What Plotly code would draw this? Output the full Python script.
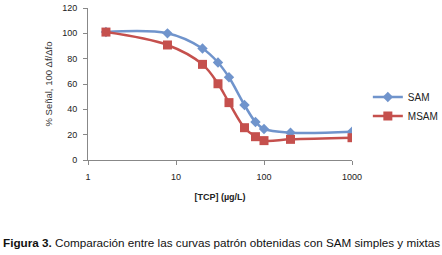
import plotly.graph_objects as go

conc = [1.6, 8, 20, 30, 40, 60, 80, 100, 200, 1000]
sam = [101, 100, 88, 77, 65.3, 43.4, 30, 24.5, 21.6, 22.3]
msam = [101, 90.8, 75.5, 60.2, 45.3, 25.5, 18.4, 15.3, 16.3, 17.6]
x_ticks = [1, 10, 100, 1000]
y_ticks = [0, 20, 40, 60, 80, 100, 120]

fig = go.Figure()
fig.add_trace(go.Scatter(
    x=conc, y=sam, name="SAM", mode="lines+markers",
    line=dict(color="#7094CC", width=2.5, shape="spline", smoothing=1),
    marker=dict(symbol="diamond", size=8, color="#7094CC"),
))
fig.add_trace(go.Scatter(
    x=conc, y=msam, name="MSAM", mode="lines+markers",
    line=dict(color="#C5504D", width=2.5, shape="spline", smoothing=1),
    marker=dict(symbol="square", size=9, color="#C5504D"),
))

axis_font = dict(family="Liberation Sans, Arial", size=9, color="#222222")
fig.update_layout(
    width=442, height=255,
    margin=dict(l=88, r=90, t=8, b=95, autoexpand=False),
    paper_bgcolor="white", plot_bgcolor="white",
    showlegend=True,
    legend=dict(x=1.06, y=0.51, xanchor="left", yanchor="top",
                font=dict(family="Liberation Sans, Arial", size=10, color="#222222"),
                bgcolor="rgba(0,0,0,0)", itemwidth=30),
    xaxis=dict(type="log", range=[0, 3], tickvals=x_ticks, ticktext=[str(v) for v in x_ticks],
               showgrid=False, zeroline=False, showline=True, linecolor="#888888", linewidth=1,
               ticks="outside", ticklen=4, tickcolor="#888888", tickfont=axis_font,
               ticklabelstandoff=4, automargin=False,
               title=dict(text="<b>[TCP] (µg/L)</b>", font=axis_font, standoff=12)),
    yaxis=dict(range=[0, 120], tickvals=y_ticks, showgrid=False, zeroline=False,
               showline=True, linecolor="#888888", linewidth=1,
               ticks="outside", ticklen=4, tickcolor="#888888", tickfont=axis_font,
               ticklabelstandoff=4, automargin=False,
               title=dict(text="% Señal, 100 Δf/Δfo", font=dict(family="Liberation Sans, Arial", size=9.5, color="#333333"), standoff=7)),
    annotations=[dict(
        text="<b>Figura 3.</b> Comparación entre las curvas patrón obtenidas con SAM simples y mixtas",
        xref="paper", yref="paper", x=0.504, y=-0.546, xanchor="center", yanchor="middle",
        showarrow=False, font=dict(family="Liberation Sans, Arial", size=11.7, color="#111111"))],
)
fig.write_html("out.html", config={"displayModeBar": False},
               post_script="document.body.style.margin='0';document.body.style.overflow='hidden';")
